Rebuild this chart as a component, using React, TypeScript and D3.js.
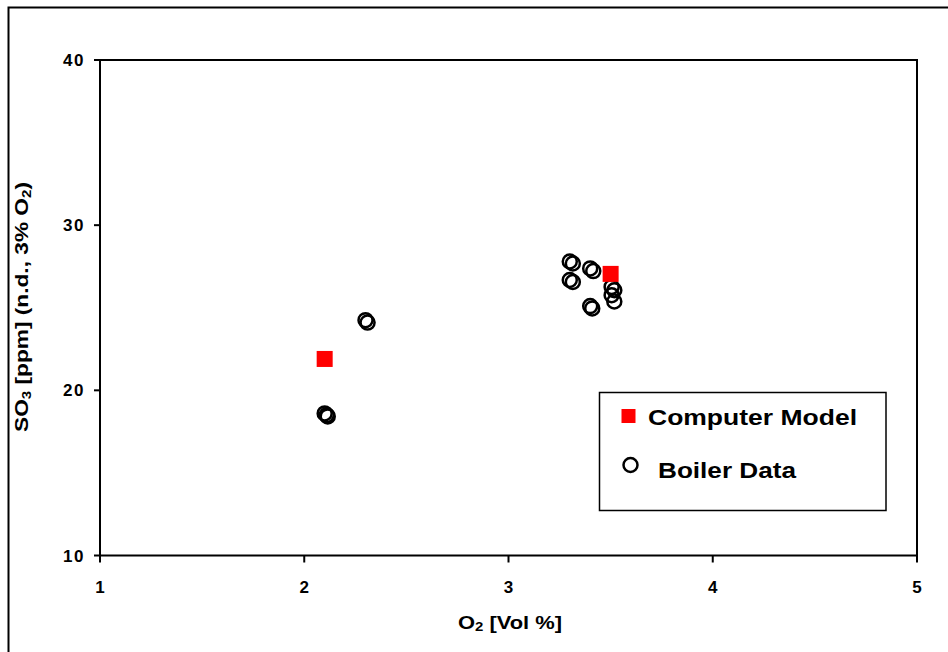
import React from "react";
import * as d3 from "d3";

const modelO2 = [2.1, 3.5];
const modelSO3 = [21.9, 27.05];

const boilerO2 = [2.1, 2.11, 2.115, 2.3, 2.31, 3.3, 3.315, 3.3, 3.315, 3.4, 3.415, 3.4, 3.41, 3.505, 3.518, 3.505, 3.518];
const boilerSO3 = [18.6, 18.5, 18.42, 24.25, 24.1, 27.8, 27.68, 26.68, 26.56, 27.38, 27.22, 25.1, 24.96, 26.26, 26.06, 25.76, 25.38];

const xTicks = [1, 2, 3, 4, 5];
const yTicks = [10, 20, 30, 40];

const W = 948;
const H = 652;
const m = { left: 100, right: 917, top: 60, bottom: 555.5 };

export default function App() {
  const x = d3.scaleLinear().domain([1, 5]).range([m.left, m.right]);
  const y = d3.scaleLinear().domain([10, 40]).range([m.bottom, m.top]);
  const font = "'Liberation Sans', Arial, sans-serif";
  const sq = 16;
  const r = 7;
  return (
    <svg width={W} height={H} style={{ position: "absolute", left: 0, top: 0, background: "#fff" }} fontFamily={font}>
      <rect x={0} y={0} width={W} height={H} fill="#fff" />
      <rect x={8.5} y={7.5} width={1200} height={1200} fill="none" stroke="#000" strokeWidth={2} />
      <rect x={m.left} y={m.top} width={m.right - m.left} height={m.bottom - m.top} fill="none" stroke="#000" strokeWidth={2} />
      {yTicks.map((t) => (
        <g key={"y" + t}>
          <line x1={m.left - 6} x2={m.left} y1={y(t)} y2={y(t)} stroke="#000" strokeWidth={2} />
          <text x={m.left - 15} y={y(t)} dy="0.36em" textAnchor="end" fontSize={17} fontWeight="bold" letterSpacing={1.5}>
            {t}
          </text>
        </g>
      ))}
      {xTicks.map((t) => (
        <g key={"x" + t}>
          <line x1={x(t)} x2={x(t)} y1={m.bottom} y2={m.bottom + 7} stroke="#000" strokeWidth={2} />
          <text x={x(t)} y={593} textAnchor="middle" fontSize={17} fontWeight="bold">
            {t}
          </text>
        </g>
      ))}
      <text x={458} y={628.5} fontSize={19} fontWeight="bold" textLength={104} lengthAdjust="spacingAndGlyphs">
        O<tspan fontSize={13} dy={2}>2</tspan>
        <tspan dy={-2}> [Vol %]</tspan>
      </text>
      <text
        transform={`translate(28,432) rotate(-90)`}
        fontSize={18}
        fontWeight="bold"
        textLength={250}
        lengthAdjust="spacingAndGlyphs"
      >
        SO<tspan fontSize={12} dy={3}>3</tspan>
        <tspan dy={-3}> [ppm] (n.d., 3% O</tspan>
        <tspan fontSize={12} dy={3}>2</tspan>
        <tspan dy={-3}>)</tspan>
      </text>
      {boilerO2.map((v, i) => (
        <circle key={"b" + i} cx={x(v)} cy={y(boilerSO3[i])} r={r} fill="none" stroke="#000" strokeWidth={2.5} />
      ))}
      {modelO2.map((v, i) => (
        <rect key={"m" + i} x={x(v) - sq / 2} y={y(modelSO3[i]) - sq / 2} width={sq} height={sq} fill="#ff0000" />
      ))}
      <rect x={599.5} y={392.5} width={286.5} height={118} fill="#fff" stroke="#000" strokeWidth={1.5} />
      <rect x={621.5} y={409} width={14} height={14} fill="#ff0000" />
      <text x={648} y={425} fontSize={22} fontWeight="bold" textLength={209} lengthAdjust="spacingAndGlyphs">
        Computer Model
      </text>
      <circle cx={630.5} cy={465} r={7} fill="none" stroke="#000" strokeWidth={2.5} />
      <text x={658} y={477.5} fontSize={22} fontWeight="bold" textLength={138} lengthAdjust="spacingAndGlyphs">
        Boiler Data
      </text>
    </svg>
  );
}
